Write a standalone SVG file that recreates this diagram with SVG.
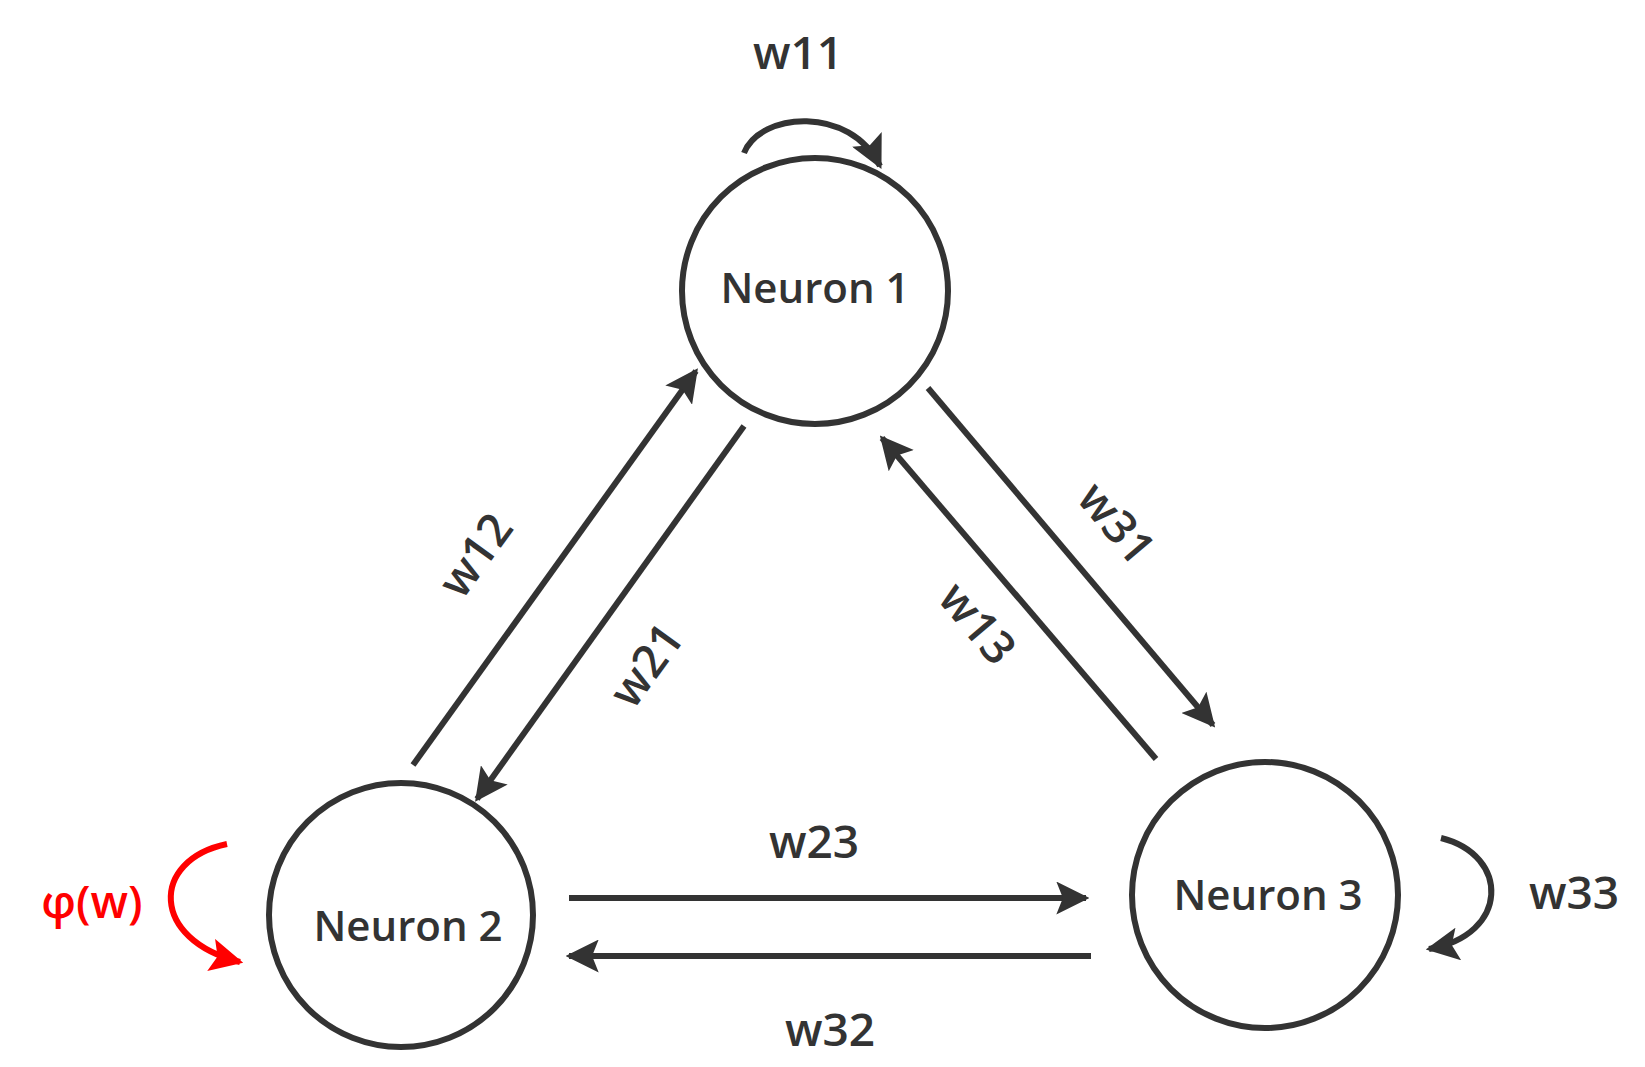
<svg xmlns="http://www.w3.org/2000/svg" width="1645" height="1067" viewBox="0 0 1645 1067">
<style>
.n{fill:#fff;stroke:#333;stroke-width:6}
.t{font-family:"Open Sans","Liberation Sans",sans-serif;font-weight:600;fill:#333;text-anchor:middle;dominant-baseline:central}
.e{stroke:#333;stroke-width:6;fill:none;marker-end:url(#a)}
.r{stroke:#f00;stroke-width:6;fill:none;marker-end:url(#ar)}
</style>
<defs>
<marker id="a" viewBox="0 0 10 10" refX="9" refY="5" markerWidth="5.5" markerHeight="5.5" orient="auto" markerUnits="strokeWidth"><path d="M0,0L10,5L0,10L2,5z" fill="#333"/></marker>
<marker id="ar" viewBox="0 0 10 10" refX="9" refY="5" markerWidth="5.5" markerHeight="5.5" orient="auto" markerUnits="strokeWidth"><path d="M0,0L10,5L0,10L2,5z" fill="#f00"/></marker>
</defs>
<rect width="1645" height="1067" fill="#fff"/>
<g id="connectors">
<path class="e" d="M744,153 C760,112 850,105 880,166"/>
<line class="e" x1="413" y1="765" x2="696" y2="371"/>
<line class="e" x1="744" y1="426" x2="477" y2="799"/>
<line class="e" x1="928" y1="388" x2="1213" y2="725"/>
<line class="e" x1="1156" y1="759" x2="882" y2="438"/>
<line class="e" x1="569" y1="898" x2="1086" y2="898"/>
<line class="e" x1="1091" y1="956" x2="569" y2="956"/>
<path class="e" d="M1441,838 C1510,855 1510,935 1429,949"/>
<path class="r" d="M227,844 C150,860 150,940 240,962"/>
<g class="t" font-size="46">
<text x="798" y="51">w11</text>
<text x="474" y="554" transform="rotate(-54 474 554)">w12</text>
<text x="645" y="664" transform="rotate(-54 645 664)">w21</text>
<text x="1118" y="522" transform="rotate(50 1118 522)">w31</text>
<text x="979" y="622" transform="rotate(50 979 622)">w13</text>
<text x="814" y="840">w23</text>
<text x="830" y="1028">w32</text>
<text x="1574" y="891">w33</text>
<text x="92" y="900" style="fill:#f00">φ(w)</text>
</g>
</g>
<g id="neuron1"><circle class="n" cx="815" cy="291" r="133"/><text class="t" x="815" y="286" font-size="42">Neuron 1</text></g>
<g id="neuron2"><circle class="n" cx="401" cy="915" r="132"/><text class="t" x="408" y="924" font-size="42">Neuron 2</text></g>
<g id="neuron3"><circle class="n" cx="1265" cy="895" r="133"/><text class="t" x="1268" y="893" font-size="42">Neuron 3</text></g>
</svg>
